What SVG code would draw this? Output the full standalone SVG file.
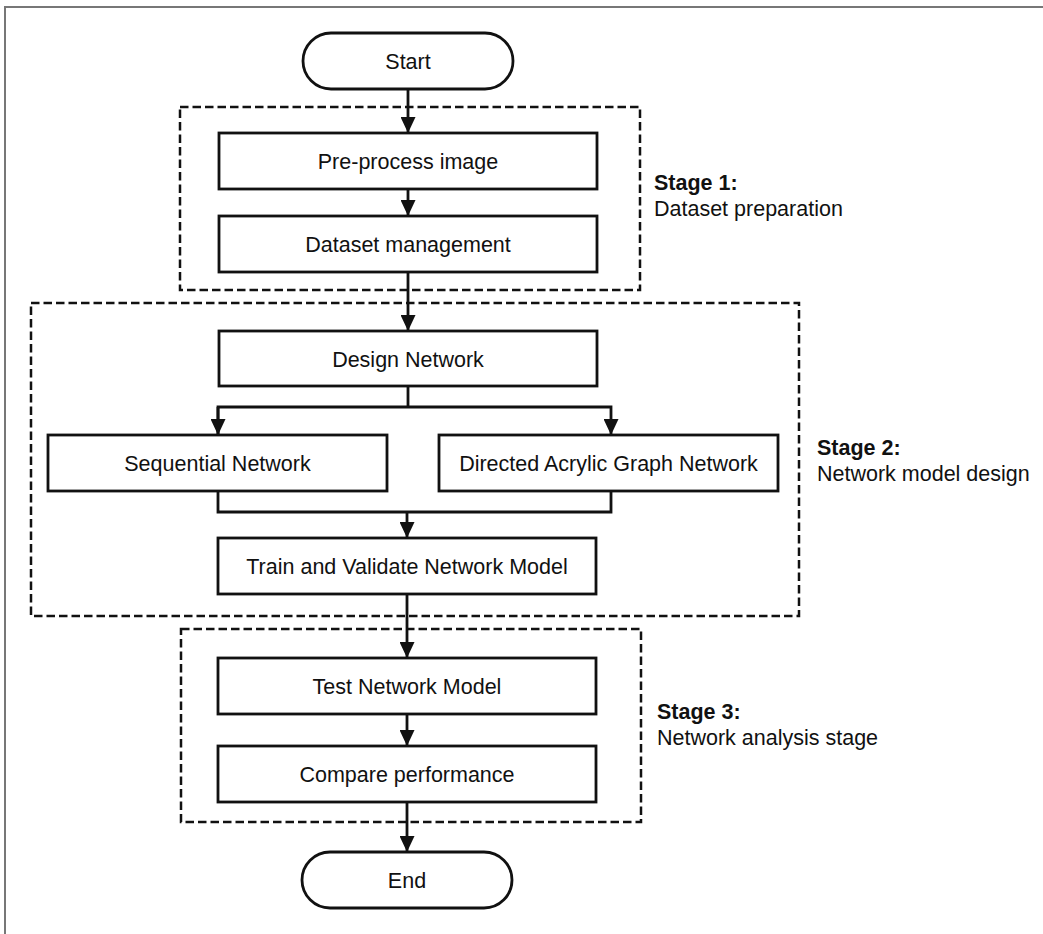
<svg xmlns="http://www.w3.org/2000/svg" width="1043" height="934" viewBox="0 0 1043 934">
<style>
.node{fill:#fff;stroke:#111;stroke-width:2.8}
.stage{fill:none;stroke:#111;stroke-width:2.5;stroke-dasharray:8.5,4}
.conn{fill:none;stroke:#111;stroke-width:2.8}
.t{font-family:"Liberation Sans",Arial,sans-serif;font-size:21.5px;fill:#111;text-anchor:middle}
.lb{font-family:"Liberation Sans",Arial,sans-serif;font-size:21.5px;fill:#111}
.b{font-weight:bold}
</style>
<defs>
<marker id="ah" markerUnits="userSpaceOnUse" markerWidth="16" markerHeight="15" refX="16" refY="7.5" orient="auto">
<path d="M0,0 L16,7.5 L0,15 z" fill="#111"/>
</marker>
</defs>
<rect x="5" y="7" width="1060" height="950" fill="#fff" stroke="#777" stroke-width="2"/>
<g id="stages">
<rect id="stage1" class="stage" x="180" y="107" width="460" height="183"/>
<rect id="stage2" class="stage" x="31" y="303" width="768" height="313"/>
<rect id="stage3" class="stage" x="181" y="629" width="460" height="193"/>
</g>
<g id="connectors">
<line class="conn" x1="408" y1="89" x2="408" y2="133" marker-end="url(#ah)"/>
<line class="conn" x1="408" y1="189" x2="408" y2="216" marker-end="url(#ah)"/>
<line class="conn" x1="408" y1="272" x2="408" y2="331" marker-end="url(#ah)"/>
<line class="conn" x1="408" y1="386" x2="408" y2="407"/>
<path class="conn" d="M218,435 V407 H611 V435" marker-end="url(#ah)"/>
<path class="conn" d="M218,407 V435" marker-end="url(#ah)"/>
<path class="conn" d="M218,491 V512 H611 V491"/>
<line class="conn" x1="407" y1="512" x2="407" y2="538" marker-end="url(#ah)"/>
<line class="conn" x1="407" y1="594" x2="407" y2="658" marker-end="url(#ah)"/>
<line class="conn" x1="407" y1="714" x2="407" y2="746" marker-end="url(#ah)"/>
<line class="conn" x1="407" y1="802" x2="407" y2="852" marker-end="url(#ah)"/>
</g>
<g id="start"><rect class="node" x="303" y="33" width="210" height="56" rx="28"/><text class="t" x="408" y="68.5">Start</text></g>
<g id="preprocess"><rect class="node" x="219" y="133" width="378" height="56"/><text class="t" x="408" y="168.5">Pre-process image</text></g>
<g id="dataset"><rect class="node" x="219" y="216" width="378" height="56"/><text class="t" x="408" y="251.5">Dataset management</text></g>
<g id="design"><rect class="node" x="219" y="331" width="378" height="55"/><text class="t" x="408" y="366.5">Design Network</text></g>
<g id="sequential"><rect class="node" x="48" y="435" width="339" height="56"/><text class="t" x="217.5" y="470.5">Sequential Network</text></g>
<g id="dag"><rect class="node" x="439" y="435" width="339" height="56"/><text class="t" x="608.5" y="470.5">Directed Acrylic Graph Network</text></g>
<g id="train"><rect class="node" x="218" y="538" width="378" height="56"/><text class="t" x="407" y="573.5">Train and Validate Network Model</text></g>
<g id="test"><rect class="node" x="218" y="658" width="378" height="56"/><text class="t" x="407" y="693.5">Test Network Model</text></g>
<g id="compare"><rect class="node" x="218" y="746" width="378" height="56"/><text class="t" x="407" y="781.5">Compare performance</text></g>
<g id="end"><rect class="node" x="302" y="852" width="210" height="56" rx="28"/><text class="t" x="407" y="887.5">End</text></g>
<g id="labels">
<text class="lb b" x="654" y="190">Stage 1:</text>
<text class="lb" x="654" y="215.5">Dataset preparation</text>
<text class="lb b" x="817" y="455">Stage 2:</text>
<text class="lb" x="817" y="480.5">Network model design</text>
<text class="lb b" x="657" y="719">Stage 3:</text>
<text class="lb" x="657" y="744.5">Network analysis stage</text>
</g>
</svg>
